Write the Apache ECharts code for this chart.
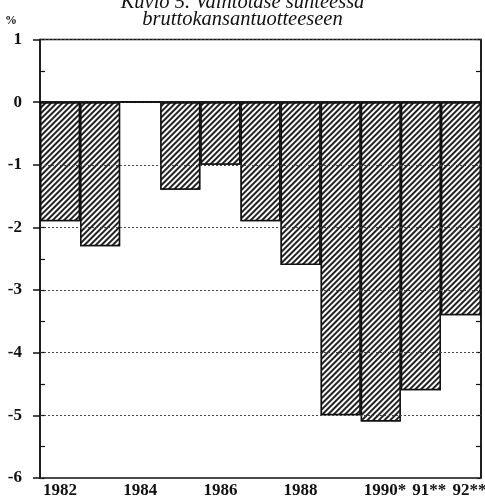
<!DOCTYPE html>
<html>
<head>
<meta charset="utf-8">
<script src="https://cdn.jsdelivr.net/npm/echarts@6/dist/echarts.min.js"></script>
<style>
    html, body { margin: 0; padding: 0; background: #fff; }
    #chart { width: 485px; height: 499px; }
</style>
</head>
<body>
<div id="chart"></div>
<script>
const years = ['1982', '1983', '1984', '1985', '1986', '1987', '1988', '1989', '1990', '1991', '1992'];
const yearLabels = ['1982', '', '1984', '', '1986', '', '1988', '', '1990', '91', '92'];
const labelStars = ['', '', '', '', '', '', '', '', '*', '**', '**'];
const balance = [-1.9, -2.3, 0, -1.4, -1.0, -1.9, -2.6, -5.0, -5.1, -4.6, -3.4];

const ink = '#111';
const serif = 'Liberation Serif';
const labelFont = { fontFamily: serif, fontWeight: 'bold', fontSize: 17, color: ink };

let chart = echarts.init(document.getElementById('chart'));

let option = {
    animation: false,
    title: {
        text: 'Kuvio 5. Vaihtotase suhteessa\nbruttokansantuotteeseen',
        left: 'center',
        top: -11,
        textStyle: {
            fontFamily: serif,
            fontStyle: 'italic',
            fontWeight: 'normal',
            fontSize: 20.5,
            lineHeight: 17,
            color: ink
        }
    },
    grid: {
        left: 40, right: 4, top: 39.5, bottom: 21,
        outerBoundsMode: 'none',
        show: true,
        borderColor: ink,
        borderWidth: 1.5
    },
    xAxis: {
        type: 'category',
        data: years,
        axisLine: { lineStyle: { color: ink, width: 1.5 } },
        axisTick: { length: 6, lineStyle: { color: ink, width: 1.5 } },
        axisLabel: {
            interval: 0,
            margin: 4,
            formatter: (v, i) => {
                if (!yearLabels[i]) return '';
                let s = labelStars[i];
                if (!s) return '{n|' + yearLabels[i] + '}';
                // pad left by the stars' width so the number itself sits centred
                return '{p' + s.length + '|}{n|' + yearLabels[i] + '}{n|' + s + '}';
            },
            rich: {
                n: labelFont,
                p1: { width: 8.5 },
                p2: { width: 17 }
            }
        }
    },
    yAxis: [
        {
            type: 'value', min: -6, max: 1, interval: 1, position: 'left', z: 5,
            axisLine: { show: true, lineStyle: { color: ink, width: 1.5 } },
            axisTick: { show: true, length: 7, lineStyle: { color: ink, width: 1.5 } },
            axisLabel: Object.assign({ margin: 18 }, labelFont),
            splitLine: { lineStyle: { color: '#444', width: 1, type: [2, 2] } },
            name: '%',
            nameLocation: 'end',
            nameGap: 13,
            nameTextStyle: { fontFamily: serif, fontWeight: 'bold', fontSize: 12, color: ink, align: 'right', padding: [0, 23, 0, 0] }
        },
        {
            type: 'value', min: -6, max: 1, interval: 0.5, position: 'left',
            axisLine: { show: false },
            axisTick: { show: true, inside: true, length: 5, lineStyle: { color: ink, width: 1.2 } },
            axisLabel: { show: false },
            splitLine: { show: false }
        },
        {
            type: 'value', min: -6, max: 1, interval: 0.5, position: 'right',
            axisLine: { show: true, lineStyle: { color: ink, width: 1.5 } },
            axisTick: { show: true, inside: true, length: 5, lineStyle: { color: ink, width: 1.2 } },
            axisLabel: { show: false },
            splitLine: { show: false }
        }
    ],
    series: [
        {
            type: 'bar',
            data: balance,
            barCategoryGap: '0%',
            itemStyle: {
                color: '#fff',
                borderColor: ink,
                borderWidth: 1.5,
                decal: {
                    symbol: 'rect',
                    symbolSize: 1,
                    dashArrayX: [1, 0],
                    dashArrayY: [1.5, 2],
                    rotation: -Math.PI / 4,
                    color: '#222',
                    backgroundColor: '#fff'
                }
            },
            markLine: {
                silent: true,
                symbol: 'none',
                label: { show: false },
                lineStyle: { color: ink, width: 1.5, type: 'solid' },
                data: [{ yAxis: 0 }]
            }
        }
    ]
};

chart.setOption(option);
</script>
</body>
</html>
